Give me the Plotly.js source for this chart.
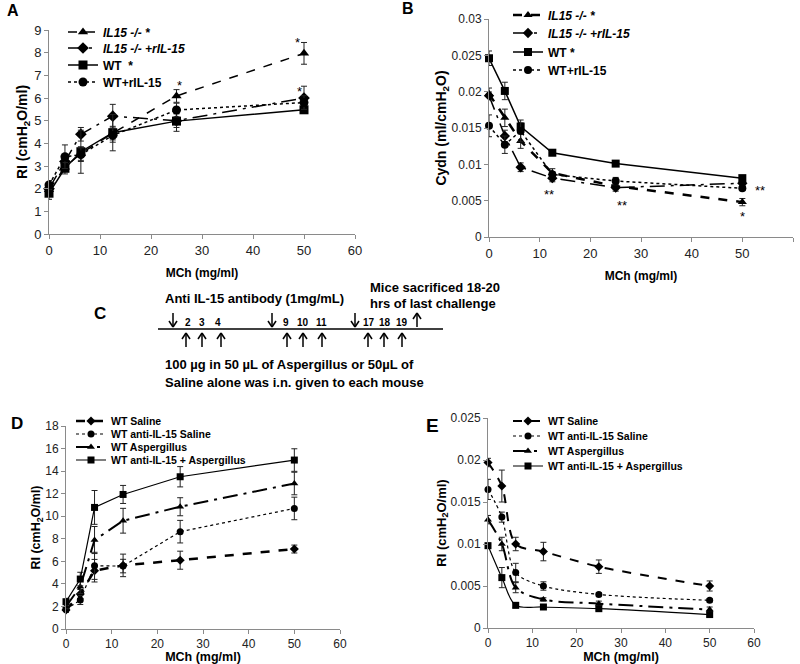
<!DOCTYPE html>
<html>
<head>
<meta charset="utf-8">
<script src="https://cdn.plot.ly/plotly-3.0.1.min.js"></script>
<style>html,body{margin:0;padding:0;background:#fff;}#chart{width:800px;height:664px;}</style>
</head>
<body>
<div id="chart"></div>
<script>
// ---------- data ----------
const mch = [0, 3.125, 6.25, 12.5, 25, 50];

// Panel A: RI
const aIL15 = [1.95, 2.95, 3.55, 4.45, 6.09, 7.97];
const aIL15Err = [0.2, 0.2, 0.3, 0.3, 0.28, 0.48];
const aIL15r = [2.0, 3.2, 4.4, 5.2, 5.0, 6.0];
const aIL15rErr = [0.2, 0.3, 0.3, 0.52, 0.3, 0.52];
const aWT = [1.8, 2.9, 3.63, 4.47, 4.98, 5.48];
const aWTErr = [0.27, 0.25, 0.95, 0.8, 0.45, 0.15];
const aWTr = [2.16, 3.41, 3.5, 4.35, 5.47, 5.8];
const aWTrErr = [0.2, 0.52, 0.3, 0.3, 0.3, 0.3];

// Panel B: Cydn
const bIL15 = [0.0197, 0.0164, 0.0132, 0.0088, 0.0070, 0.0048];
const bIL15Err = [0.0008, 0.0012, 0.001, 0.0006, 0.0005, 0.0005];
const bIL15r = [0.01945, 0.0139, 0.0096, 0.0081, 0.0068, 0.0074];
const bIL15rErr = [0.0005, 0.0008, 0.0006, 0.0005, 0.0005, 0.0004];
const bWT = [0.0246, 0.0201, 0.0152, 0.0116, 0.0101, 0.0081];
const bWTErr = [0.001, 0.0012, 0.0005, 0.0004, 0.0004, 0.0003];
const bWTr = [0.0153, 0.0127, 0.0146, 0.0086, 0.0077, 0.0067];
const bWTrErr = [0.0015, 0.0012, 0.0015, 0.0004, 0.0005, 0.0003];

// Panel D: RI
const dSal = [1.68, 3.1, 5.17, 5.64, 6.1, 7.09];
const dSalErr = [0.2, 0.4, 1.0, 1.0, 0.8, 0.35];
const dAntiSal = [1.74, 2.57, 5.6, 5.58, 8.63, 10.69];
const dAntiSalErr = [0.2, 0.4, 1.2, 0.6, 1.0, 1.0];
const dAsp = [2.0, 3.75, 7.89, 9.6, 10.84, 12.9];
const dAspErr = [0.2, 0.6, 1.2, 1.1, 0.8, 1.0];
const dAntiAsp = [2.42, 4.43, 10.78, 11.93, 13.5, 14.98];
const dAntiAspErr = [0.3, 0.6, 1.5, 0.8, 0.9, 1.0];

// Panel E: RI
const eSal = [0.0197, 0.0169, 0.0100, 0.0091, 0.0073, 0.0050];
const eSalErr = [0.0005, 0.0019, 0.0008, 0.0011, 0.0008, 0.0006];
const eAntiSal = [0.0165, 0.0132, 0.0066, 0.0050, 0.0040, 0.0033];
const eAntiSalErr = [0.0012, 0.0006, 0.0011, 0.0005, 0.0002, 0.0002];
const eAsp = [0.0129, 0.0100, 0.0048, 0.0034, 0.0029, 0.0022];
const eAspErr = [0.0005, 0.0008, 0.0006, 0.0002, 0.0003, 0.0003];
const eAntiAsp = [0.0098, 0.0060, 0.0027, 0.0025, 0.0023, 0.0016];
const eAntiAspErr = [0.0003, 0.0012, 0.0003, 0.0002, 0.0002, 0.0002];

// tick labels
const xTicks = [0, 10, 20, 30, 40, 50, 60];
const aYTicks = [0, 1, 2, 3, 4, 5, 6, 7, 8, 9];
const bYTicks = [0, 0.005, 0.01, 0.015, 0.02, 0.025, 0.03];
const bYText = ['0', '0.005', '0.01', '0.015', '0.02', '0.025', '0.03'];
const dYTicks = [0, 2, 4, 6, 8, 10, 12, 14, 16, 18];
const eYTicks = [0, 0.005, 0.01, 0.015, 0.02, 0.025];
const eYText = ['0', '0.005', '0.01', '0.015', '0.02', '0.025'];

// names
const aNames = ['<b><i>IL15 -/- *</i></b>', '<b><i>IL15 -/- +rIL-15</i></b>', '<b>WT  *</b>', '<b>WT+rIL-15</b>'];
const bNames = ['<b><i>IL15 -/- *</i></b>', '<b><i>IL15 -/- +rIL-15</i></b>', '<b>WT *</b>', '<b>WT+rIL-15</b>'];
const dNames = ['<b>WT Saline</b>', '<b>WT anti-IL-15 Saline</b>', '<b>WT Aspergillus</b>', '<b>WT anti-IL-15 + Aspergillus</b>'];

// ---------- helpers ----------
const F = 'Liberation Sans, Arial, sans-serif';
const W = 800, H = 664;
const PX = v => v / W;
const PY = v => 1 - v / H;

function tr(y, err, name, xa, ya, leg, dash, width, symbol, msize, shape) {
  return {
    x: mch, y: y, name: name, xaxis: xa, yaxis: ya, legend: leg,
    type: 'scatter', mode: 'lines+markers', cliponaxis: false,
    line: {color: '#000', dash: dash, width: width, shape: shape || 'linear', smoothing: 0.9},
    marker: {color: '#000', symbol: symbol, size: msize},
    error_y: {type: 'data', array: err, visible: true, color: '#222', thickness: 1, width: 3}
  };
}

const traces = [
  tr(aIL15, aIL15Err, aNames[0], 'x', 'y', 'legend', 'dash', 1.5, 'triangle-up', 9),
  tr(aIL15r, aIL15rErr, aNames[1], 'x', 'y', 'legend2', 'longdashdot', 1.5, 'diamond', 9),
  tr(aWT, aWTErr, aNames[2], 'x', 'y', 'legend3', 'solid', 1.5, 'square', 9),
  tr(aWTr, aWTrErr, aNames[3], 'x', 'y', 'legend4', 'dot', 1.5, 'circle', 9),

  tr(bIL15, bIL15Err, bNames[0], 'x2', 'y2', 'legend5', 'dash', 2.5, 'triangle-up', 8),
  tr(bIL15r, bIL15rErr, bNames[1], 'x2', 'y2', 'legend6', 'longdashdot', 1.5, 'diamond', 8),
  tr(bWT, bWTErr, bNames[2], 'x2', 'y2', 'legend7', 'solid', 1.5, 'square', 8),
  tr(bWTr, bWTrErr, bNames[3], 'x2', 'y2', 'legend8', 'dot', 1.5, 'circle', 8),

  tr(dSal, dSalErr, dNames[0], 'x3', 'y3', 'legend9', 'dash', 2.5, 'diamond', 7),
  tr(dAntiSal, dAntiSalErr, dNames[1], 'x3', 'y3', 'legend10', 'dot', 1.2, 'circle', 7),
  tr(dAsp, dAspErr, dNames[2], 'x3', 'y3', 'legend11', 'longdashdot', 2, 'triangle-up', 7),
  tr(dAntiAsp, dAntiAspErr, dNames[3], 'x3', 'y3', 'legend12', 'solid', 1.2, 'square', 7),

  tr(eSal, eSalErr, dNames[0], 'x4', 'y4', 'legend13', 'dash', 2, 'diamond', 7, 'spline'),
  tr(eAntiSal, eAntiSalErr, dNames[1], 'x4', 'y4', 'legend14', 'dot', 1.2, 'circle', 7, 'spline'),
  tr(eAsp, eAspErr, dNames[2], 'x4', 'y4', 'legend15', 'longdashdot', 2, 'triangle-up', 7, 'spline'),
  tr(eAntiAsp, eAntiAspErr, dNames[3], 'x4', 'y4', 'legend16', 'solid', 1.2, 'square', 7, 'spline')
];

function leg(xp, yp, size) {
  return {x: PX(xp), y: PY(yp), xanchor: 'left', yanchor: 'middle', bgcolor: 'rgba(0,0,0,0)',
    borderwidth: 0, font: {family: F, size: size, color: '#000'}, itemwidth: 30, tracegroupgap: 0};
}

function xax(x0, x1, anchor, ttl, tsize, standoff, tfs) {
  return {domain: [PX(x0), PX(x1)], anchor: anchor, range: [0, 60], tickvals: xTicks,
    showgrid: false, zeroline: false, showline: true, linecolor: '#8a8a8a', linewidth: 1,
    ticks: 'outside', ticklen: 4, tickcolor: '#8a8a8a', tickfont: {family: F, size: tfs, color: '#222'},
    title: {text: ttl, font: {family: F, size: tsize, color: '#000'}, standoff: standoff}};
}
function yax(y0, y1, anchor, range, tv, tt, ttl, tsize, standoff, tfs) {
  const o = {domain: [PY(y1), PY(y0)], anchor: anchor, range: range, tickvals: tv,
    showgrid: false, zeroline: false, showline: true, linecolor: '#8a8a8a', linewidth: 1,
    ticks: 'outside', ticklen: 4, tickcolor: '#8a8a8a', tickfont: {family: F, size: tfs, color: '#222'},
    title: {text: ttl, font: {family: F, size: tsize, color: '#000'}, standoff: standoff}};
  if (tt) o.ticktext = tt;
  return o;
}

const RI = '<b>RI (cmH<sub>2</sub>O/ml)</b>';
const CY = '<b>Cydn (ml/cmH<sub>2</sub>O)</b>';
const MC = '<b>MCh (mg/ml)</b>';

// ---------- diagram shapes ----------
const shapes = [];
function seg(x0, y0, x1, y1, w) {
  shapes.push({type: 'line', xref: 'paper', yref: 'paper', x0: PX(x0), y0: PY(y0), x1: PX(x1), y1: PY(y1),
    line: {color: '#000', width: w || 1.5}});
}
function arrowDown(x, y0, y1) { seg(x, y0, x, y1); seg(x - 4, y1 - 6, x, y1); seg(x + 4, y1 - 6, x, y1); }
function arrowUp(x, y0, y1) { seg(x, y0, x, y1); seg(x - 4, y1 + 6, x, y1); seg(x + 4, y1 + 6, x, y1); }
seg(158, 329, 443, 329, 1.5);
[173, 272, 355].forEach(x => arrowDown(x, 313, 327));
arrowUp(417, 327, 313);
[186, 202, 221, 287, 303, 322, 368, 384, 402].forEach(x => arrowUp(x, 347, 333));

const ann = [];
function txt(x, y, t, size, anchor) {
  ann.push({xref: 'paper', yref: 'paper', x: PX(x), y: PY(y), text: t, showarrow: false,
    xanchor: anchor || 'center', yanchor: 'middle', font: {family: F, size: size, color: '#000'}});
}
txt(13, 11, '<b>A</b>', 16);
txt(408, 8, '<b>B</b>', 16);
txt(100, 313, '<b>C</b>', 17);
txt(17, 423, '<b>D</b>', 17);
txt(432, 425, '<b>E</b>', 19);
txt(254, 298, '<b>Anti IL-15 antibody (1mg/mL)</b>', 13);
txt(368, 287, '<b>Mice sacrificed 18-20</b>', 13, 'left');
txt(368, 303, '<b>hrs of last challenge</b>', 13, 'left');
txt(163, 365, '<b>100 µg in 50 µL of Aspergillus or 50µL of</b>', 13, 'left');
txt(163, 382, '<b>Saline alone was i.n. given to each mouse</b>', 13, 'left');
const dayLabels = ['2', '3', '4', '9', '10', '11', '17', '18', '19'];
const dayX = [188, 202, 218, 286, 303, 321, 369, 385, 402];
dayLabels.forEach((d, i) => txt(dayX[i], 322, '<b>' + d + '</b>', 10));

// significance markers (data coords)
function star(xa, ya, x, y, t) {
  ann.push({xref: xa, yref: ya, x: x, y: y, text: t, showarrow: false, font: {family: F, size: 13, color: '#000'}});
}
star('x', 'y', 25.5, 6.55, '*');
star('x', 'y', 48.8, 8.45, '*');
star('x', 'y', 49.2, 6.3, '*');
star('x2', 'y2', 11.8, 0.0058, '**');
star('x2', 'y2', 26.2, 0.0044, '**');
star('x2', 'y2', 53.5, 0.0064, '**');
star('x2', 'y2', 50.1, 0.0028, '*');

const layout = {
  width: W, height: H, margin: {l: 0, r: 0, t: 0, b: 0}, paper_bgcolor: '#fff', plot_bgcolor: 'rgba(0,0,0,0)',
  font: {family: F, color: '#000'}, showlegend: true,
  xaxis: xax(49, 355, 'y', MC, 12, 12, 13),
  yaxis: yax(30, 234, 'x', [0, 9], aYTicks, null, RI, 14, 3, 13),
  xaxis2: xax(489, 793, 'y2', MC, 12, 12, 13),
  yaxis2: yax(19, 237, 'x2', [0, 0.03], bYTicks, bYText, CY, 14, 1, 12),
  xaxis3: xax(66, 340, 'y3', MC, 12.5, 9, 12),
  yaxis3: yax(426, 629, 'x3', [0, 18], dYTicks, null, RI, 12.5, 1, 12),
  xaxis4: xax(488, 754, 'y4', MC, 12.5, 9, 12),
  yaxis4: yax(418, 628, 'x4', [0, 0.025], eYTicks, eYText, RI, 13, 1, 12),
  legend: leg(63, 32, 12), legend2: leg(63, 48, 12), legend3: leg(63, 65, 12), legend4: leg(63, 82, 12),
  legend5: leg(508, 15, 12), legend6: leg(508, 33, 12), legend7: leg(508, 52, 12), legend8: leg(508, 70, 12),
  legend9: leg(71, 421, 10.5), legend10: leg(71, 434, 10.5), legend11: leg(71, 447, 10.5), legend12: leg(71, 460, 10.5),
  legend13: leg(508, 421, 10.5), legend14: leg(508, 436, 10.5), legend15: leg(508, 451, 10.5), legend16: leg(508, 466, 10.5),
  shapes: shapes, annotations: ann
};

Plotly.newPlot('chart', traces, layout, {displayModeBar: false, staticPlot: true});
</script>
</body>
</html>
